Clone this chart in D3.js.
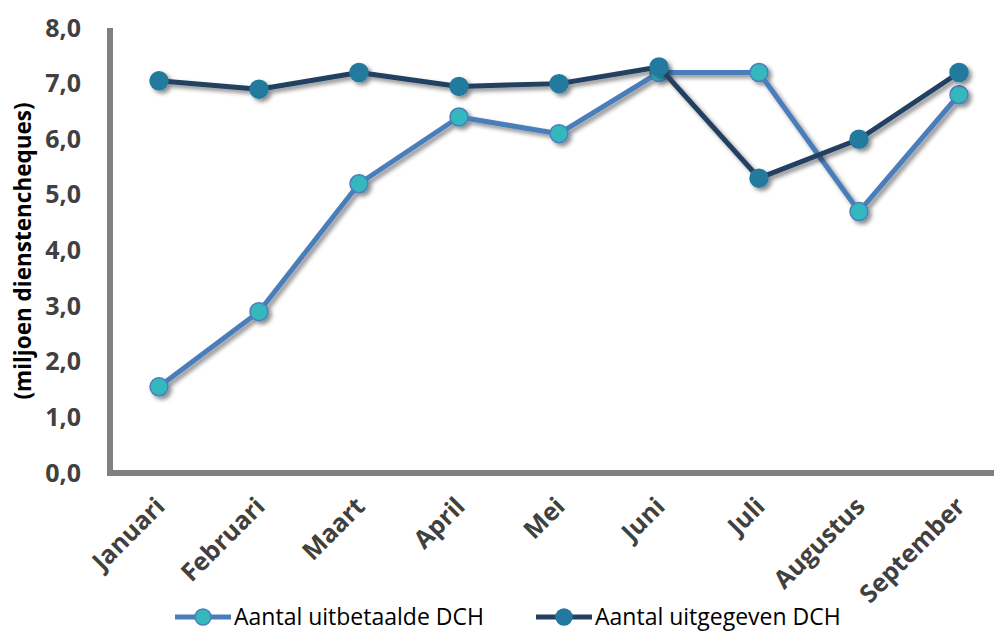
<!DOCTYPE html>
<html>
<head>
<meta charset="utf-8">
<script src="https://cdn.jsdelivr.net/npm/d3@7"></script>
<style>
  body { margin: 0; background: #fff; }
  svg { display: block; font-family: "Open Sans", sans-serif; }
</style>
</head>
<body>
<div id="chart"></div>
<script>
// data
var months = ['Januari', 'Februari', 'Maart', 'April', 'Mei', 'Juni', 'Juli', 'Augustus', 'September'];
var uitbetaald = [1.55, 2.9, 5.2, 6.4, 6.1, 7.2, 7.2, 4.7, 6.8];
var uitgegeven = [7.05, 6.9, 7.2, 6.95, 7.0, 7.3, 5.3, 6.0, 7.2];
var yTicks = [0, 1, 2, 3, 4, 5, 6, 7, 8];

var width = 994, height = 631;

var series = [
    {name: 'Aantal uitbetaalde DCH', values: uitbetaald, line: '#4a7ebb', fill: '#35b8bd', stroke: '#4a7ebb', lx: 175},
    {name: 'Aantal uitgegeven DCH', values: uitgegeven, line: '#243f60', fill: '#227a9e', stroke: '#227a9e', lx: 536}
];

var x = d3.scalePoint()
    .domain(months)
    .range([109, 1009])
    .padding(0.5);

var y = d3.scaleLinear()
    .domain([0, 8])
    .range([473, 28]);

var svg = d3.select('#chart')
    .append('svg')
    .attr('width', width)
    .attr('height', height);

var defs = svg.append('defs');
defs.append('filter')
    .attr('id', 'shadow')
    .attr('x', '-20%').attr('y', '-20%')
    .attr('width', '140%').attr('height', '140%')
    .append('feDropShadow')
    .attr('dx', 3).attr('dy', 3)
    .attr('stdDeviation', 2.2)
    .attr('flood-color', '#000')
    .attr('flood-opacity', 0.45);

// axes
var yAxis = d3.axisLeft(y)
    .tickValues(yTicks)
    .tickSize(0)
    .tickPadding(29)
    .tickFormat(d => d3.format('.1f')(d).replace('.', ','));

var gy = svg.append('g')
    .attr('transform', 'translate(110,0)')
    .call(yAxis);
gy.select('.domain').remove();
gy.selectAll('text')
    .attr('font-size', 25)
    .attr('font-weight', 'bold')
    .attr('fill', '#404040')
    .attr('font-family', '"Open Sans", sans-serif');

var xAxis = d3.axisBottom(x).tickSize(0);
var gx = svg.append('g')
    .attr('transform', 'translate(0,473)')
    .call(xAxis);
gx.select('.domain').remove();
gx.selectAll('text')
    .attr('font-size', 25)
    .attr('font-weight', 'bold')
    .attr('fill', '#404040')
    .attr('font-family', '"Open Sans", sans-serif')
    .attr('text-anchor', 'end')
    .attr('dy', 0)
    .attr('y', 0)
    .attr('transform', 'translate(7,35) rotate(-45)');

// axis lines
svg.append('path')
    .attr('d', 'M110,' + y(8) + 'V' + y(0) + 'H' + width)
    .attr('fill', 'none')
    .attr('stroke', '#808080')
    .attr('stroke-width', 6);

// y title
svg.append('text')
    .attr('transform', 'translate(31,' + 251 + ') rotate(-90)')
    .attr('text-anchor', 'middle')
    .attr('font-size', 22.5)
    .attr('font-weight', 'bold')
    .attr('fill', '#000')
    .text('(miljoen dienstencheques)');

var line = d3.line()
    .x((d, i) => x(months[i]))
    .y(d => y(d));

series.forEach(function(s) {
    var g = svg.append('g').attr('filter', 'url(#shadow)');
    g.append('path')
        .datum(s.values)
        .attr('fill', 'none')
        .attr('stroke', s.line)
        .attr('stroke-width', 5)
        .attr('stroke-linejoin', 'round')
        .attr('d', line);
    g.selectAll('circle')
        .data(s.values).enter()
        .append('circle')
        .attr('cx', (d, i) => x(months[i]))
        .attr('cy', d => y(d))
        .attr('r', 9)
        .attr('fill', s.fill)
        .attr('stroke', s.stroke)
        .attr('stroke-width', 1.5);
});

// legend
var legend = svg.append('g');
series.forEach(function(s) {
    var lg = legend.append('g').attr('transform', 'translate(' + s.lx + ',617)');
    lg.append('line')
        .attr('x1', 0).attr('x2', 56)
        .attr('stroke', s.line)
        .attr('stroke-width', 5);
    lg.append('circle')
        .attr('cx', 28).attr('r', 8)
        .attr('fill', s.fill)
        .attr('stroke', s.stroke)
        .attr('stroke-width', 1.5);
    lg.append('text')
        .attr('x', 59)
        .attr('dy', '0.35em')
        .attr('font-size', 23)
        .attr('fill', '#000')
        .text(s.name);
});
</script>
</body>
</html>
